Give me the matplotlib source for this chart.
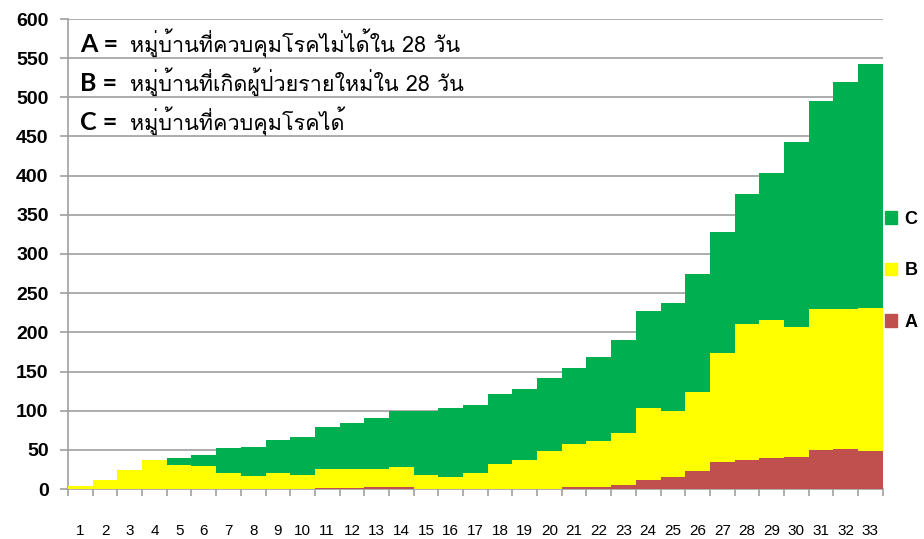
import matplotlib
matplotlib.use("Agg")
import matplotlib.pyplot as plt
from matplotlib import font_manager
from matplotlib.ft2font import FT2Font
from matplotlib.patches import Patch

# day numbers and village counts per category
days = list(range(1, 34))
a_vals = [0, 0, 0, 0, 0, 0, 0, 0, 0, 0, 1, 1, 2, 2, 0, 0, 0, 0, 0, 0, 2, 2, 5, 11,
          15, 23, 35, 37, 39, 41, 50, 51, 48]
b_vals = [4, 11, 24, 37, 31, 29, 21, 17, 20, 18, 25, 25, 24, 26, 18, 15, 20, 32, 37,
          48, 55, 59, 66, 92, 85, 101, 139, 174, 177, 166, 180, 179, 183]
c_vals = [0, 0, 0, 0, 8, 15, 31, 36, 43, 48, 53, 58, 65, 72, 81, 88, 87, 89, 91, 94,
          97, 107, 119, 124, 138, 151, 154, 165, 187, 236, 265, 290, 312]

labels = ["A", "B", "C"]
notes = ["หมู่บ้านที่ควบคุมโรคไม่ได้ใน 28 วัน",
         "หมู่บ้านที่เกิดผู้ป่วยรายใหม่ใน 28 วัน",
         "หมู่บ้านที่ควบคุมโรคได้"]
colors = ["#C0504D", "#FFFF00", "#00B050"]


def find_thai_font():
    # look for any installed font that has Thai glyphs
    for f in font_manager.fontManager.ttflist:
        try:
            if 0x0E2B in FT2Font(f.fname).get_charmap():
                return f.name
        except Exception:
            pass
    return None


thai = find_thai_font()
thai_family = [thai, "DejaVu Sans"] if thai else ["DejaVu Sans"]

W, H = 924, 539
fig = plt.figure(figsize=(W / 100, H / 100), dpi=100)
ax = fig.add_axes([68 / W, 1 - 489 / H, (882.7 - 68) / W, 470 / H])

bottom = [0] * len(days)
for vals, col in zip([a_vals, b_vals, c_vals], colors):
    ax.bar(days, vals, width=1.0, bottom=bottom, color=col, linewidth=0, zorder=3)
    bottom = [b + v for b, v in zip(bottom, vals)]

ax.set_xlim(0.5, 33.5)
ax.set_ylim(0, 600)
ax.set_yticks(range(0, 601, 50))
ax.set_xticks(days)
ax.set_xticklabels([str(d) for d in days], fontsize=11, family="Liberation Sans")
ax.set_xticks([d + 0.5 for d in range(0, 34)], minor=True)
ax.tick_params(axis="x", which="major", length=0, pad=25)
ax.tick_params(axis="x", which="minor", length=5, color="#A0A0A0", width=1.2)
ax.tick_params(axis="y", length=6, color="#A0A0A0", width=1.2, pad=8)
for t in ax.get_yticklabels():
    t.set_fontsize(14)
    t.set_fontweight("bold")
    t.set_family("Liberation Sans")

ax.grid(axis="y", color="#A6A6A6", linewidth=1.3, zorder=0)
for s in ["top", "right"]:
    ax.spines[s].set_visible(False)
ax.spines["left"].set_color("#A0A0A0")
ax.spines["bottom"].set_color("#A0A0A0")
ax.spines["left"].set_linewidth(1.2)
ax.spines["bottom"].set_linewidth(1.2)

# key text in the top left
for i, (lab, note) in enumerate(zip(labels, notes)):
    y = 1 - (52 + 39 * i) / H
    fig.text(80 / W, y, lab + " =", fontsize=18, fontweight="bold",
             family="Lato", va="baseline", ha="left")
    fig.text(130 / W, y, note, fontsize=15.5, family=thai_family,
             va="baseline", ha="left")

handles = [Patch(color=c) for c in colors[::-1]]
leg = ax.legend(handles, labels[::-1], loc="center left",
                bbox_to_anchor=(1.0, 0.464), frameon=False,
                handlelength=0.7, handleheight=0.7, handletextpad=0.4,
                labelspacing=1.9, borderpad=0, borderaxespad=0.1,
                prop={"size": 13, "weight": "bold", "family": "Liberation Sans"})

fig.savefig("out.png", dpi=100)
